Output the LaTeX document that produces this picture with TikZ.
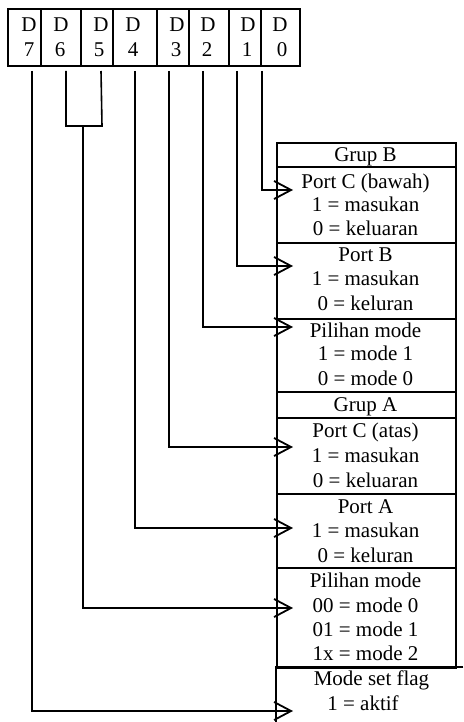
\documentclass[tikz,border=0pt]{standalone}
\usepackage{fontspec}
\setmainfont{Liberation Serif}
\usetikzlibrary{arrows.meta,calc}
\begin{document}
\begin{tikzpicture}[x=1pt,y=-1pt,
  cell/.style={draw,line width=2pt,anchor=north west,inner sep=0pt,minimum height=57pt},
  sect/.style={draw,line width=2pt,anchor=north west,inner sep=0pt,minimum width=179pt},
  txt/.style={anchor=base,inner sep=0pt,font=\fontsize{21}{24}\selectfont},
  conn/.style={line width=1.6pt},
  feed/.style={conn,-{Straight Barb[length=17pt,width=18pt,line width=1.8pt]}},
  boxline/.style={line width=2pt}]
\useasboundingbox (0,0) rectangle (463,722);

% control word register, bits D7 .. D0
\node[cell,minimum width=33pt] (c7) at (7,8) {};
\node[cell,minimum width=40pt] (c6) at (40,8) {};
\node[cell,minimum width=32pt] (c5) at (80,8) {};
\node[cell,minimum width=44pt] (c4) at (112,8) {};
\node[cell,minimum width=32pt] (c3) at (156,8) {};
\node[cell,minimum width=40pt] (c2) at (188,8) {};
\node[cell,minimum width=32pt] (c1) at (228,8) {};
\node[cell,minimum width=39pt] (c0) at (260,8) {};

\node[txt] (d7a) at (29,32) {D};    \node[txt] (d7b) at (29,57) {7};
\node[txt] (d6a) at (61,32) {D};    \node[txt] (d6b) at (60,57) {6};
\node[txt] (d5a) at (101,32) {D};   \node[txt] (d5b) at (99,57) {5};
\node[txt] (d4a) at (133,32) {D};   \node[txt] (d4b) at (133,57) {4};
\node[txt] (d3a) at (177,32) {D};   \node[txt] (d3b) at (176,57) {3};
\node[txt] (d2a) at (208,32) {D};   \node[txt] (d2b) at (207,57) {2};
\node[txt] (d1a) at (248,32) {D};   \node[txt] (d1b) at (247,57) {1};
\node[txt] (d0a) at (280,32) {D};   \node[txt] (d0b) at (282,57) {0};

% description column
\node[sect,minimum height=24pt] (gb)  at (276,142) {};
\node[sect,minimum height=76pt] (pcb) at (276,166) {};
\node[sect,minimum height=76pt] (pb)  at (276,242) {};
\node[sect,minimum height=73pt] (pmb) at (276,318) {};
\node[sect,minimum height=26pt] (ga)  at (276,391) {};
\node[sect,minimum height=76pt] (pca) at (276,417) {};
\node[sect,minimum height=74pt] (pa)  at (276,493) {};
\node[sect,minimum height=100pt] (pma) at (276,567) {};
\node[anchor=north west,inner sep=0pt,minimum width=187pt,minimum height=55pt] (msf) at (276,667) {};
\draw[boxline] (msf.north east) -- (msf.north west) -- (msf.south west);

\node[txt] (t1)  at (365.5,161) {Grup B};
\node[txt] (t2)  at (365.5,188) {Port C (bawah)};
\node[txt] (t3)  at (365.5,211) {1 = masukan};
\node[txt] (t4)  at (365.5,235) {0 = keluaran};
\node[txt] (t5)  at (365.5,261) {Port B};
\node[txt] (t6)  at (365.5,285) {1 = masukan};
\node[txt] (t7)  at (365.5,310) {0 = keluran};
\node[txt] (t8)  at (365.5,337) {Pilihan mode};
\node[txt] (t9)  at (365.5,360) {1 = mode 1};
\node[txt] (t10) at (365.5,385) {0 = mode 0};
\node[txt] (t11) at (365.5,411) {Grup A};
\node[txt] (t12) at (365.5,437) {Port C (atas)};
\node[txt] (t13) at (365.5,462) {1 = masukan};
\node[txt] (t14) at (365.5,487) {0 = keluaran};
\node[txt] (t15) at (365.5,513) {Port A};
\node[txt] (t16) at (365.5,537) {1 = masukan};
\node[txt] (t17) at (365.5,562) {0 = keluran};
\node[txt] (t18) at (365.5,587) {Pilihan mode};
\node[txt] (t19) at (365.5,612) {00 = mode 0};
\node[txt] (t20) at (365.5,636) {01 = mode 1};
\node[txt] (t21) at (365.5,660) {1x = mode 2};
\node[txt] (t22) at (371.5,685) {Mode set flag};
\node[txt] (t23) at (363,710) {1 = aktif};

% arrow targets on the column
\coordinate (a0) at (293,190);
\coordinate (a1) at (293,266);
\coordinate (a2) at (293,327);
\coordinate (a3) at (293,447);
\coordinate (a4) at (293,528);
\coordinate (a56) at (293,608);
\coordinate (a7) at (293,711);

% bit lines
\draw[feed] ($(c0.south west)+(2,4)$)  |- (a0);
\draw[feed] ($(c1.south west)+(9,4)$)  |- (a1);
\draw[feed] ($(c2.south west)+(15,4)$) |- (a2);
\draw[feed] ($(c3.south west)+(13,4)$) |- (a3);
\draw[feed] ($(c4.south west)+(23,4)$) |- (a4);
\draw[feed] ($(c7.south west)+(25,4)$) |- (a7);

% D6 and D5 joined into one mode field
\coordinate (j) at (83,126);
\draw[conn] ($(c6.south west)+(26,4)$) |- ($(j)+(-18,0)$) -- ($(j)+(19,0)$) -- ($(c5.south west)+(21,4)$);
\draw[feed] (j) |- (a56);
\end{tikzpicture}
\end{document}
